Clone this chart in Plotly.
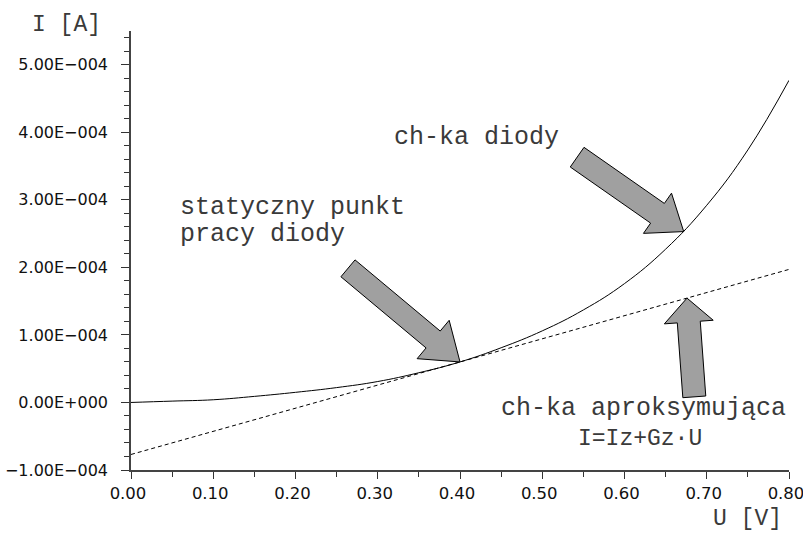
import numpy as np
import plotly.graph_objects as go

# Diode static characteristic I(U)
u_diode = [0.00, 0.05, 0.10, 0.15, 0.20, 0.25, 0.30, 0.35, 0.40,
           0.45, 0.50, 0.55, 0.60, 0.65, 0.70, 0.75, 0.80]
i_diode = [0.00e-4, 0.02e-4, 0.04e-4, 0.09e-4, 0.15e-4, 0.22e-4, 0.31e-4, 0.44e-4, 0.60e-4,
           0.81e-4, 1.06e-4, 1.37e-4, 1.76e-4, 2.27e-4, 2.92e-4, 3.74e-4, 4.77e-4]

# Linear approximation I = Iz + Gz*U (tangent at the operating point)
u_lin = [0.00, 0.80]
i_lin = [-0.77e-4, 1.97e-4]

# Operating point and arrow targets
q_point = (0.40, 0.60e-4)
diode_target = (0.672, 2.53e-4)
lin_target = (0.676, 1.545e-4)

y_tickvals = [-1e-4, 0, 1e-4, 2e-4, 3e-4, 4e-4, 5e-4]
y_ticktext = ["\u22121.00E\u2212004", "0.00E+000", "1.00E\u2212004", "2.00E\u2212004",
              "3.00E\u2212004", "4.00E\u2212004", "5.00E\u2212004"]
x_tickvals = [0.0, 0.1, 0.2, 0.3, 0.4, 0.5, 0.6, 0.7, 0.8]
x_ticktext = ["0.00", "0.10", "0.20", "0.30", "0.40", "0.50", "0.60", "0.70", "0.80"]

W, H = 803, 539
ML, MR, MT, MB = 131, 14, 31, 69
XR = (0.0, 0.8)
YR = (-1e-4, 5.5e-4)
PW, PH = W - ML - MR, H - MT - MB
sx = PW / (XR[1] - XR[0])
sy = PH / (YR[1] - YR[0])


def px_to_data(px, py):
    return XR[0] + (px - ML) / sx, YR[0] + (MT + PH - py) / sy


def px_to_paper(px, py):
    return (px - ML) / PW, (MT + PH - py) / PH


def block_arrow(tip, dir_px, length, shaft_w, head_w, head_len):
    """Filled block arrow; tip in data units, geometry in screen pixels."""
    tx = ML + (tip[0] - XR[0]) * sx
    ty = MT + PH - (tip[1] - YR[0]) * sy
    d = np.array(dir_px, float)
    d /= np.linalg.norm(d)
    n = np.array([-d[1], d[0]])
    t = np.array([tx, ty])
    pts = [
        t,
        t + d * head_len + n * head_w / 2,
        t + d * head_len + n * shaft_w / 2,
        t + d * length + n * shaft_w / 2,
        t + d * length - n * shaft_w / 2,
        t + d * head_len - n * shaft_w / 2,
        t + d * head_len - n * head_w / 2,
    ]
    coords = [px_to_data(p[0], p[1]) for p in pts]
    path = "M " + " L ".join(f"{x:.6f},{y:.9f}" for x, y in coords) + " Z"
    return dict(type="path", path=path, xref="x", yref="y",
                fillcolor="#a0a0a0", line=dict(color="black", width=1), layer="above")


fig = go.Figure()
fig.add_trace(go.Scatter(x=u_diode, y=i_diode, mode="lines",
                         line=dict(color="black", width=1, shape="spline", smoothing=1.2),
                         showlegend=False, hoverinfo="skip"))
fig.add_trace(go.Scatter(x=u_lin, y=i_lin, mode="lines",
                         line=dict(color="black", width=1, dash="4px,3px"),
                         showlegend=False, hoverinfo="skip"))

shapes = [
    block_arrow(q_point, (-112.5, -94), 146, 22, 50, 35),
    block_arrow(diode_target, (-107, -74.7), 130, 24, 49, 32),
    block_arrow(lin_target, (7.3, 98.7), 99, 23, 49, 24),
]

mono = "Liberation Mono, Courier New, monospace"


def label(text, px, py, size=25):
    x, y = px_to_paper(px, py)
    return dict(text=text, x=x, y=y, xref="paper", yref="paper", xanchor="left",
                yanchor="middle", showarrow=False,
                font=dict(family=mono, size=size, color="#3a3a3a"))


annotations = [
    label("I [A]", 30, 25, 23),
    label("U [V]", 711, 519, 23),
    label("ch-ka diody", 392, 137),
    label("statyczny punkt", 178, 207),
    label("pracy diody", 178, 234),
    label("ch-ka aproksymująca", 499, 408),
    label("I=Iz+Gz\u00b7U", 576, 439, 23),
]

axis_common = dict(showgrid=False, zeroline=False, showline=True, linecolor="#444",
                   linewidth=1.5, ticks="outside", tickcolor="#333", tickwidth=1,
                   tickmode="array", mirror=False, ticklabeloverflow="allow",
                   automargin=False)

fig.update_layout(
    width=W, height=H,
    margin=dict(l=ML, r=MR, t=MT, b=MB, pad=0),
    paper_bgcolor="white", plot_bgcolor="white",
    shapes=shapes, annotations=annotations,
    xaxis=dict(range=list(XR), tickvals=x_tickvals, ticktext=x_ticktext, ticklen=7,
               ticklabelshift=-3,
               tickfont=dict(family="DejaVu Sans", size=16.5, color="#111"),
               minor=dict(dtick=0.05, tick0=0, ticks="outside", ticklen=5, tickcolor="#333"),
               **axis_common),
    yaxis=dict(range=list(YR), tickvals=y_tickvals, ticktext=y_ticktext, ticklen=8,
               ticklabelstandoff=10,
               tickfont=dict(family="DejaVu Sans", size=16, color="#111"),
               minor=dict(dtick=2e-5, tick0=0, ticks="outside", ticklen=5, tickcolor="#333"),
               **axis_common),
)

fig.write_html("out.html")
